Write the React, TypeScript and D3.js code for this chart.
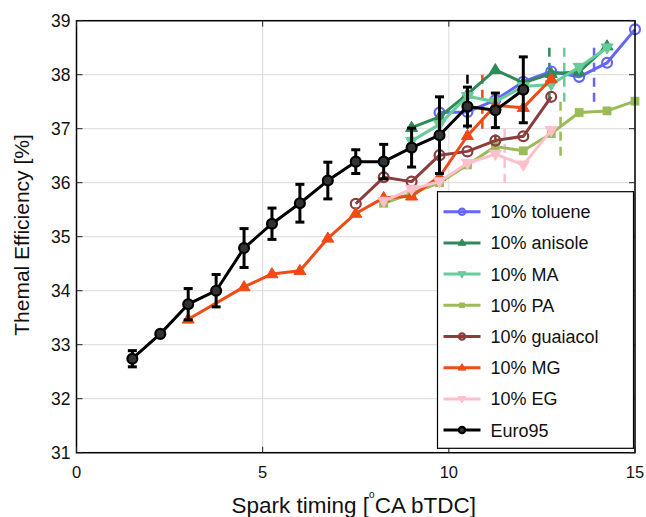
import React from "react";
import * as d3 from "d3";

const W = 646, H = 517;
const M = { left: 76.5, right: 11, top: 20.7, bottom: 64.3 };

const xTicks = [0, 5, 10, 15];
const yTicks = [31, 32, 33, 34, 35, 36, 37, 38, 39];

const sparkX = [1.5, 2.25, 3, 3.75, 4.5, 5.25, 6, 6.75, 7.5, 8.25, 9, 9.75, 10.5, 11.25, 12, 12.75, 13.5, 14.25, 15];

const tolueneX = [9.75, 10.5, 11.25, 12, 12.75, 13.5, 14.25, 15];
const tolueneY = [37.3, 37.31, 37.53, 37.87, 38.06, 37.96, 38.22, 38.84];
const anisoleX = [9, 9.75, 10.5, 11.25, 12, 12.75, 13.5, 14.25];
const anisoleY = [37.02, 37.22, 37.64, 38.09, 37.85, 38.02, 38.05, 38.53];
const maX = [9, 9.75, 10.5, 11.25, 12, 12.75, 13.5, 14.25];
const maY = [36.77, 37.08, 37.6, 37.5, 37.78, 37.82, 38.14, 38.5];
const paX = [8.25, 9, 9.75, 10.5, 11.25, 12, 12.75, 13.5, 14.25, 15];
const paY = [35.62, 35.8, 36.0, 36.33, 36.67, 36.59, 36.91, 37.3, 37.33, 37.51];
const guaiacolX = [7.5, 8.25, 9, 9.75, 10.5, 11.25, 12, 12.75];
const guaiacolY = [35.61, 36.1, 36.02, 36.51, 36.58, 36.78, 36.86, 37.59];
const mgX = [3, 4.5, 5.25, 6, 6.75, 7.5, 8.25, 9, 9.75, 10.5, 11.25, 12, 12.75];
const mgY = [33.47, 34.07, 34.31, 34.37, 34.97, 35.43, 35.72, 35.75, 36.11, 36.87, 37.43, 37.39, 37.92];
const egX = [8.25, 9, 9.75, 10.5, 11.25, 12, 12.75];
const egY = [35.66, 35.88, 36.02, 36.36, 36.53, 36.33, 36.97];
const euroX = sparkX.slice(0, 15);
const euroY = [32.74, 33.2, 33.75, 34.0, 34.79, 35.24, 35.62, 36.04, 36.39, 36.39, 36.65, 36.88, 37.41, 37.34, 37.72];
const euroErr = [0.15, 0.04, 0.29, 0.3, 0.36, 0.29, 0.35, 0.34, 0.22, 0.32, 0.36, 0.71, 0.36, 0.32, 0.61];

const seriesNames = ["10% toluene", "10% anisole", "10% MA", "10% PA", "10% guaiacol", "10% MG", "10% EG", "Euro95"];
const seriesColors = ["#6464ff", "#2e8b57", "#66cc99", "#9bbb59", "#8b3d3d", "#f04a15", "#ffc0cb", "#000000"];
const seriesMarkers = ["circle", "triUp", "triDown", "square", "circle", "triUp", "triDown", "circleFilled"];
const seriesXs = [tolueneX, anisoleX, maX, paX, guaiacolX, mgX, egX, euroX];
const seriesYs = [tolueneY, anisoleY, maY, paY, guaiacolY, mgY, egY, euroY];

// knock-limit dashed lines: x, y from, y to
const knockX = [13.9, 12.7, 13.1, 13.0, 11.25, 10.9, 11.5, 10.5];
const knockY0 = [37.5, 37.5, 37.5, 36.5, 36.45, 37.0, 36.0, 37.0];
const knockY1 = [38.5, 38.5, 38.5, 37.5, 37.2, 38.0, 37.0, 38.0];

const FONT = "'Liberation Sans', Arial, Helvetica, sans-serif";

function Marker({ type, x, y, color, s }: { type: string; x: number; y: number; color: string; s: number }) {
  if (type === "circle") {
    return <circle cx={x} cy={y} r={s * 0.9} fill="none" stroke={color} strokeWidth={2.2} />;
  }
  if (type === "circleFilled") {
    return <circle cx={x} cy={y} r={s * 0.9} fill="#333" stroke={color} strokeWidth={2.2} />;
  }
  if (type === "square") {
    const h = s * 0.8;
    return <rect x={x - h} y={y - h} width={2 * h} height={2 * h} fill={color} />;
  }
  const r = s * 1.15;
  const dir = type === "triUp" ? -1 : 1;
  const pts = [
    [x, y + dir * r],
    [x - r * 0.95, y - dir * r * 0.6],
    [x + r * 0.95, y - dir * r * 0.6],
  ];
  return <polygon points={pts.map((p) => p.join(",")).join(" ")} fill={color} stroke={color} strokeWidth={1} strokeLinejoin="round" />;
}

export default function App() {
  const x = d3.scaleLinear().domain([0, 15]).range([M.left, W - M.right]);
  const y = d3.scaleLinear().domain([31, 39]).range([H - M.bottom, M.top]);
  const x0 = x(0), x1 = x(15), y0 = y(31), y1 = y(39);

  const line = d3
    .line<[number, number]>()
    .x((d) => x(d[0]))
    .y((d) => y(d[1]));

  const legX = 437.5, legY = 191.7, legW = 196, legH = 256.6;
  const rowH = 31.2;

  return (
    <svg width={W} height={H} style={{ position: "absolute", left: 0, top: 0, background: "#fff" }} fontFamily={FONT}>
      <rect x={0} y={0} width={W} height={H} fill="#fff" />
      {/* grid */}
      {xTicks.map((t) => (
        <line key={"gx" + t} x1={x(t)} x2={x(t)} y1={y0} y2={y1} stroke="#dadada" strokeWidth={1} />
      ))}
      {yTicks.map((t) => (
        <line key={"gy" + t} x1={x0} x2={x1} y1={y(t)} y2={y(t)} stroke="#dadada" strokeWidth={1} />
      ))}
      {/* knock dashed lines */}
      {knockX.map((kx, i) => (
        <line
          key={"k" + i}
          x1={x(kx)}
          x2={x(kx)}
          y1={y(knockY0[i])}
          y2={y(knockY1[i])}
          stroke={seriesColors[i]}
          strokeWidth={2.5}
          strokeDasharray="9,6"
        />
      ))}
      {/* series lines */}
      {seriesNames.map((n, i) => {
        const pts: [number, number][] = seriesXs[i].map((v, j) => [v, seriesYs[i][j]]);
        return (
          <g key={n}>
            <path d={line(pts) || ""} fill="none" stroke={seriesColors[i]} strokeWidth={3} strokeLinejoin="round" />
            {i === 7 &&
              euroX.map((v, j) => {
                const cx = x(v);
                const ya = y(euroY[j] - euroErr[j]);
                const yb = y(euroY[j] + euroErr[j]);
                return (
                  <g key={"e" + j} stroke="#000" strokeWidth={3}>
                    <line x1={cx} x2={cx} y1={ya} y2={yb} />
                    <line x1={cx - 4.5} x2={cx + 4.5} y1={ya} y2={ya} />
                    <line x1={cx - 4.5} x2={cx + 4.5} y1={yb} y2={yb} />
                  </g>
                );
              })}
            {pts.map((p, j) => (
              <Marker key={j} type={seriesMarkers[i]} x={x(p[0])} y={y(p[1])} color={seriesColors[i]} s={5.5} />
            ))}
          </g>
        );
      })}
      {/* frame */}
      <rect x={x0} y={y1} width={x1 - x0} height={y0 - y1} fill="none" stroke="#000" strokeWidth={1.5} />
      {/* ticks inward */}
      {xTicks.map((t) => (
        <g key={"tx" + t} stroke="#222" strokeWidth={1}>
          <line x1={x(t)} x2={x(t)} y1={y0} y2={y0 - 6} />
          <line x1={x(t)} x2={x(t)} y1={y1} y2={y1 + 6} />
        </g>
      ))}
      {yTicks.map((t) => (
        <g key={"ty" + t} stroke="#222" strokeWidth={1}>
          <line x1={x0} x2={x0 + 6} y1={y(t)} y2={y(t)} />
          <line x1={x1} x2={x1 - 6} y1={y(t)} y2={y(t)} />
        </g>
      ))}
      {/* tick labels */}
      {xTicks.map((t) => (
        <text key={"lx" + t} x={x(t)} y={y0 + 25.5} fontSize={16.5} textAnchor="middle" fill="#111">
          {t}
        </text>
      ))}
      {yTicks.map((t) => (
        <text key={"ly" + t} x={x0 - 6} y={y(t) + 6.5} fontSize={17.5} textAnchor="end" fill="#111">
          {t}
        </text>
      ))}
      {/* axis titles */}
      <text x={(x0 + x1) / 2 - 2} y={513.3} fontSize={22.5} textAnchor="middle" fill="#111">
        Spark timing [
        <tspan dy={-15} fontSize={10}>o</tspan>
        <tspan dy={15}>CA bTDC]</tspan>
      </text>
      <text transform={`translate(29, ${235}) rotate(-90)`} fontSize={21} textAnchor="middle" fill="#111">
        Themal Efficiency [%]
      </text>
      {/* legend */}
      <rect x={legX} y={legY} width={legW} height={legH} fill="#fff" stroke="#000" strokeWidth={1.2} />
      {seriesNames.map((n, i) => {
        const cy = legY + 20 + i * rowH;
        return (
          <g key={"leg" + n}>
            <line x1={legX + 6} x2={legX + 43} y1={cy} y2={cy} stroke={seriesColors[i]} strokeWidth={3} />
            <Marker type={seriesMarkers[i]} x={legX + 24.5} y={cy} color={seriesColors[i]} s={3.5} />
            <text x={legX + 53} y={cy + 6.5} fontSize={18} fill="#111">
              {n}
            </text>
          </g>
        );
      })}
    </svg>
  );
}
